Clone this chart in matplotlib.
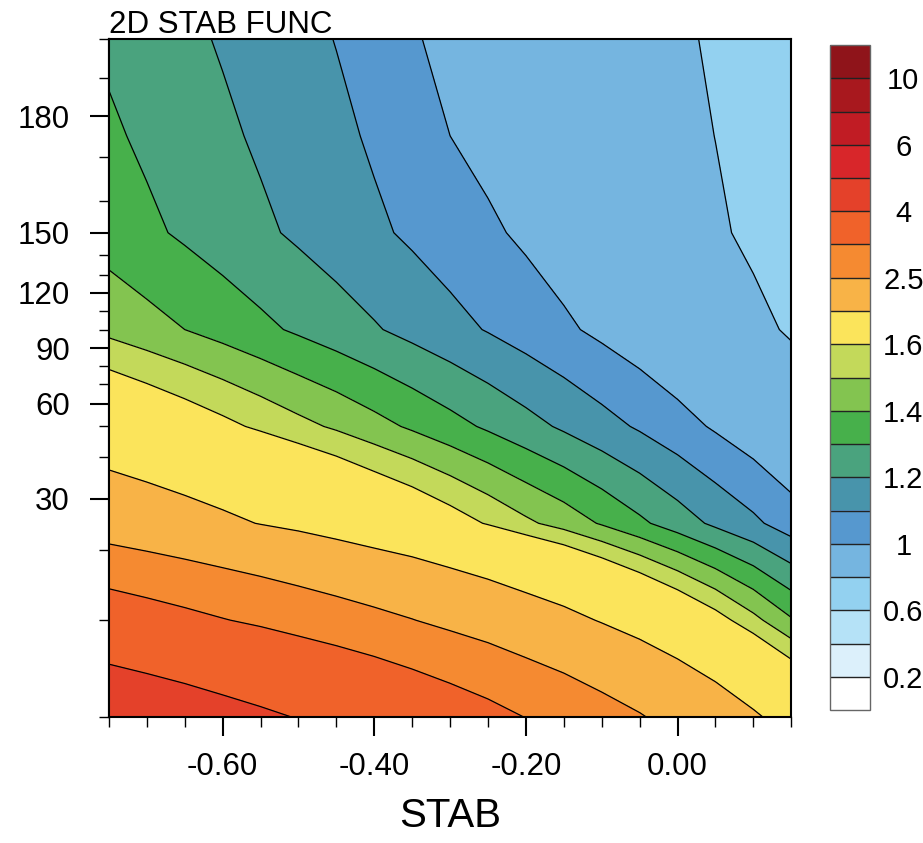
import numpy as np
import matplotlib
matplotlib.use("Agg")
import matplotlib.pyplot as plt
from matplotlib.ticker import FixedLocator, FixedFormatter

plt.rcParams['font.family'] = ['Liberation Sans', 'DejaVu Sans']
plt.rcParams['axes.unicode_minus'] = False

# Grid coordinates
stab = [-0.75, -0.70, -0.65, -0.60, -0.55, -0.50, -0.45, -0.40, -0.35, -0.30,
        -0.25, -0.20, -0.15, -0.10, -0.05, 0.00, 0.05, 0.10, 0.15]
heights = [0, 10, 25, 50, 100, 150, 175, 200]

# Stability function, one row per height level
f_000 = [4.78, 4.62, 4.46, 4.29, 4.13, 3.97, 3.81, 3.65, 3.48, 3.32, 3.16, 2.99, 2.84, 2.68, 2.53, 2.36, 2.20, 2.04, 1.88]
f_010 = [3.35, 3.24, 3.13, 3.02, 2.92, 2.81, 2.71, 2.61, 2.51, 2.40, 2.30, 2.19, 2.09, 1.98, 1.87, 1.76, 1.65, 1.53, 1.41]
f_025 = [2.27, 2.20, 2.13, 2.06, 1.99, 1.93, 1.86, 1.79, 1.73, 1.66, 1.59, 1.52, 1.46, 1.39, 1.32, 1.25, 1.18, 1.12, 1.05]
f_050 = [1.78, 1.73, 1.68, 1.63, 1.58, 1.53, 1.485, 1.435, 1.385, 1.335, 1.285, 1.235, 1.185, 1.136, 1.088, 1.038, 0.988, 0.939, 0.89]
f_100 = [1.474, 1.437, 1.40, 1.362, 1.323, 1.285, 1.247, 1.209, 1.170, 1.132, 1.094, 1.055, 1.017, 0.978, 0.940, 0.902, 0.864, 0.826, 0.788]
f_150 = [1.354, 1.319, 1.285, 1.251, 1.218, 1.184, 1.151, 1.117, 1.084, 1.050, 1.016, 0.983, 0.949, 0.915, 0.881, 0.848, 0.814, 0.781, 0.747]
f_175 = [1.315, 1.283, 1.250, 1.218, 1.186, 1.154, 1.122, 1.087, 1.043, 1.000, 0.971, 0.943, 0.914, 0.885, 0.857, 0.828, 0.799, 0.771, 0.742]
f_200 = [1.283, 1.252, 1.221, 1.191, 1.160, 1.129, 1.097, 1.052, 1.008, 0.978, 0.951, 0.924, 0.897, 0.870, 0.843, 0.815, 0.788, 0.761, 0.734]

# Contour levels and fill colours (one colour per band, lowest first)
levels = [0.2, 0.4, 0.6, 0.8, 1.0, 1.1, 1.2, 1.3, 1.4, 1.5, 1.6, 2.0, 2.5, 3.0, 4.0, 5.0, 6.0, 8.0, 10.0]
band_colors = ['#ffffff', '#dcf0fb', '#b5e2f7', '#93d1f0', '#75b5e0', '#5698cf',
               '#4894ab', '#4aa37e', '#47b04b', '#83c450', '#c3d95a', '#fbe45b',
               '#f8b347', '#f58a31', '#f0622a', '#e4412a', '#d8262a', '#c11c24',
               '#a8181e', '#8f141a']
bar_ticks = [0.2, 0.6, 1.0, 1.2, 1.4, 1.6, 2.5, 4.0, 6.0, 10.0]
bar_labels = ['0.2', '0.6', '1', '1.2', '1.4', '1.6', '2.5', '4', '6', '10']

W, H = 923, 843
fig = plt.figure(figsize=(W / 100, H / 100), dpi=100)
ax = fig.add_axes([108.9 / W, 1 - 717 / H, 682.4 / W, 678 / H])

Z = np.array([f_000, f_010, f_025, f_050, f_100, f_150, f_175, f_200])
row_index = np.arange(len(heights))
bounds = [0.0] + levels + [12.0]

cf = ax.contourf(stab, row_index, Z, levels=bounds, colors=band_colors)
ax.contour(stab, row_index, Z, levels=levels, colors='black', linewidths=0.9)

ax.set_xlim(-0.75, 0.15)
ax.set_ylim(0, len(heights) - 1)

for s in ax.spines.values():
    s.set_linewidth(1.5)

# x axis
ax.xaxis.set_major_locator(FixedLocator([-0.6, -0.4, -0.2, 0.0]))
ax.xaxis.set_major_formatter(FixedFormatter(['-0.60', '-0.40', '-0.20', '0.00']))
ax.xaxis.set_minor_locator(FixedLocator(np.round(np.arange(-0.75, 0.1501, 0.05), 2)))
ax.tick_params(axis='x', which='major', direction='out', length=14, width=1.5,
               labelsize=22.5, pad=11, top=False)
ax.tick_params(axis='x', which='minor', direction='out', length=7, width=1.0, top=False)
ax.set_xlabel('STAB', fontsize=29, labelpad=11)

# irregular height axis: rows are evenly spaced, heights follow a smooth spline
ax.set_yticks([])
ax.tick_params(axis='y', left=False, right=False)
h = np.asarray(heights, dtype=float)
h_slope = np.gradient(h)


def index_to_height(i):
    i = np.clip(np.asarray(i, dtype=float), 0, len(h) - 1)
    j = np.minimum(np.floor(i).astype(int), len(h) - 2)
    t = i - j
    t2, t3 = t * t, t * t * t
    return ((2 * t3 - 3 * t2 + 1) * h[j] + (t3 - 2 * t2 + t) * h_slope[j]
            + (-2 * t3 + 3 * t2) * h[j + 1] + (t3 - t2) * h_slope[j + 1])


_ii = np.linspace(0, len(h) - 1, 4001)
_hh = index_to_height(_ii)


def height_to_index(v):
    return np.interp(np.asarray(v, dtype=float), _hh, _ii)


sec = ax.secondary_yaxis('left', functions=(index_to_height, height_to_index))
sec.yaxis.set_major_locator(FixedLocator([30, 60, 90, 120, 150, 180]))
sec.yaxis.set_minor_locator(FixedLocator(list(range(0, 201, 10))))
sec.tick_params(which='major', direction='out', length=14, width=1.5, labelsize=22.5, pad=14)
sec.tick_params(which='minor', direction='out', length=7, width=1.0)
sec.spines['left'].set_linewidth(1.5)

fig.text(108.9 / W, 1 - 33.3 / H, '2D STAB FUNC', fontsize=22.5, ha='left', va='baseline')

# colour bar with equal-size boxes
cax = fig.add_axes([830 / W, 1 - 710 / H, 40 / W, 665 / H])
cb = fig.colorbar(cf, cax=cax, spacing='uniform', ticks=bar_ticks, drawedges=True)
cb.ax.set_yticklabels(bar_labels)
cb.ax.tick_params(length=0, labelsize=21, pad=24)
for lab in cb.ax.get_yticklabels():
    lab.set_horizontalalignment('center')
cb.outline.set_edgecolor('#666666')
cb.outline.set_linewidth(1.0)
cb.dividers.set_color('#222222')
cb.dividers.set_linewidth(1.0)

fig.savefig('out.png', dpi=100)
